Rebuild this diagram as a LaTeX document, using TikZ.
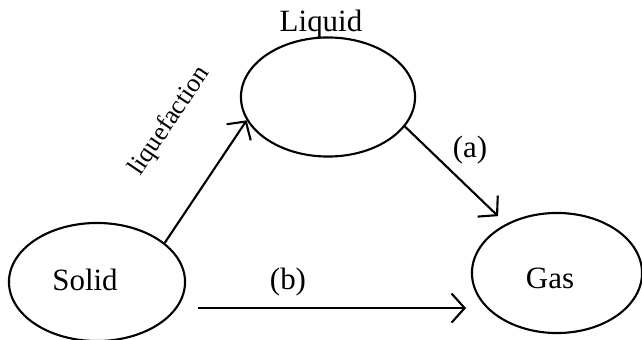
\documentclass[tikz,border=0pt]{standalone}
\usepackage{fontspec}
\setmainfont{Liberation Serif}
\usetikzlibrary{shapes.geometric, arrows.meta, positioning}

\begin{document}
\begin{tikzpicture}[
		x=0.01cm, y=-0.01cm,
		% phase ellipses
		phase/.style={
			ellipse,
			draw=black,
			line width=0.6pt,
			inner sep=0pt,
		},
		% text of the phases and arrows
		phasetext/.style={
			font=\fontsize{8.8}{10}\selectfont,
			text=black,
			inner sep=0pt
		},
		arr/.style={
			line width=0.6pt,
			-{Straight Barb[length=1.3mm, width=2.9mm, line width=0.6pt]}
		}
		]
		\useasboundingbox[fill=white] (0,0) rectangle (642,339);
		
		% --- PHASES ---
		\node[phase, minimum width=1.74cm, minimum height=1.19cm] (liquid) at (328,97) {};
		\node[phase, minimum width=1.76cm, minimum height=1.18cm] (solid) at (97,282) {};
		\node[phase, minimum width=1.70cm, minimum height=1.20cm] (gas) at (557,273) {};
		
		\node[phasetext] (liquid-txt) at (321,24) {Liquid};
		\node[phasetext] (solid-txt) at (85,280) {Solid};
		\node[phasetext] (gas-txt) at (550,278) {Gas};
		
		% --- TRANSITIONS ---
		\draw[arr] (solid.30) -- (liquid.196);
		\draw[arr, shorten >=0.11cm] (liquid.339) -- (gas.136);
		\draw[arr, shorten <=0.21cm, shorten >=0.21cm] (solid.-18) -- (solid.-18 -| gas.207);
		
		\node[phasetext, font=\fontsize{7.4}{8}\selectfont, rotate=56] (liq-lbl) at (170,121) {liquefaction};
		\node[phasetext] (a-lbl) at (470,150) {(a)};
		\node[phasetext] (b-lbl) at (288,282) {(b)};
		
	\end{tikzpicture}
\end{document}
